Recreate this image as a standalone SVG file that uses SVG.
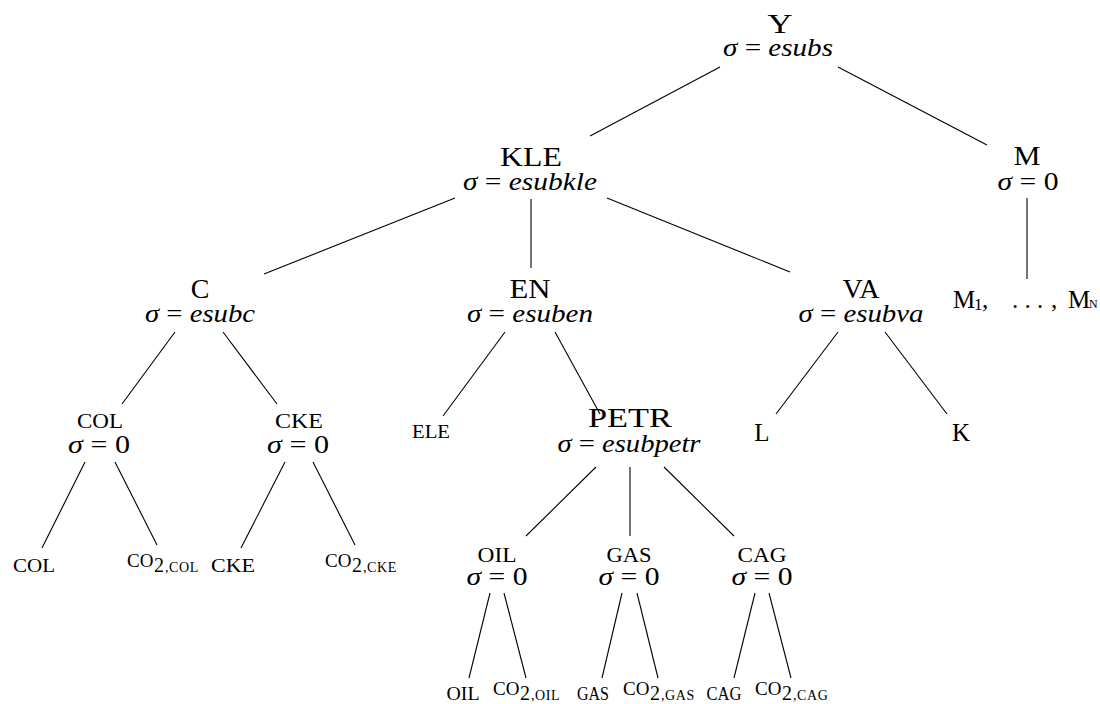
<svg xmlns="http://www.w3.org/2000/svg" width="1100" height="704" viewBox="0 0 1100 704">
  <style>
    text { font-family: "Liberation Serif", "DejaVu Serif", serif; fill: #000; }
    .t { font-size: 28px; text-anchor: middle; }
    .s { font-size: 25px; text-anchor: middle; }
    .z { font-size: 25px; text-anchor: middle; }
    .n { font-size: 21px; text-anchor: middle; }
    .lf { font-size: 18px; text-anchor: middle; }
    .co { font-size: 19px; }
    .two { font-size: 20px; }
    .sc { font-size: 14px; letter-spacing: 0.6px; }
    .i { font-style: italic; }
    .conn line { stroke: #000; stroke-width: 1.1; }
  </style>
  <rect width="1100" height="704" fill="#fff"/>

  <!-- tree edges -->
  <g class="conn" id="connectors">
    <line x1="720" y1="67" x2="590" y2="136"/>
    <line x1="838" y1="67" x2="987" y2="145"/>
    <line x1="455" y1="198" x2="264" y2="274"/>
    <line x1="531" y1="199" x2="531" y2="268"/>
    <line x1="607" y1="198" x2="790" y2="272"/>
    <line x1="1027" y1="198" x2="1027" y2="279"/>
    <line x1="175" y1="332" x2="122" y2="404"/>
    <line x1="223" y1="332" x2="277" y2="404"/>
    <line x1="505" y1="332" x2="443" y2="416"/>
    <line x1="555" y1="332" x2="600" y2="414"/>
    <line x1="838" y1="332" x2="776" y2="414"/>
    <line x1="885" y1="332" x2="947" y2="414"/>
    <line x1="85" y1="462" x2="42" y2="548"/>
    <line x1="115" y1="462" x2="157" y2="545"/>
    <line x1="285" y1="462" x2="241" y2="548"/>
    <line x1="313" y1="462" x2="355" y2="545"/>
    <line x1="596" y1="467" x2="526" y2="536"/>
    <line x1="630" y1="467" x2="630" y2="536"/>
    <line x1="664" y1="467" x2="734" y2="536"/>
    <line x1="490" y1="593" x2="469" y2="678"/>
    <line x1="504" y1="593" x2="526" y2="678"/>
    <line x1="622" y1="593" x2="602" y2="678"/>
    <line x1="637" y1="593" x2="658" y2="678"/>
    <line x1="755" y1="593" x2="734" y2="678"/>
    <line x1="769" y1="593" x2="791" y2="678"/>
  </g>

  <g id="node-Y">
    <text class="t" x="780" y="33" textLength="25" lengthAdjust="spacingAndGlyphs">Y</text>
    <text class="s" x="778" y="56" textLength="110" lengthAdjust="spacingAndGlyphs"><tspan class="i">σ</tspan> = <tspan class="i">esubs</tspan></text>
  </g>
  <g id="node-KLE">
    <text class="t" x="531" y="166" textLength="62" lengthAdjust="spacingAndGlyphs">KLE</text>
    <text class="s" x="530" y="190" textLength="134" lengthAdjust="spacingAndGlyphs"><tspan class="i">σ</tspan> = <tspan class="i">esubkle</tspan></text>
  </g>
  <g id="node-M">
    <text class="t" x="1027" y="165" textLength="27" lengthAdjust="spacingAndGlyphs">M</text>
    <text class="s" x="1028" y="190" textLength="61" lengthAdjust="spacingAndGlyphs"><tspan class="i">σ</tspan> = 0</text>
  </g>
  <g id="node-C">
    <text class="t" x="200" y="298">C</text>
    <text class="s" x="200" y="322" textLength="110" lengthAdjust="spacingAndGlyphs"><tspan class="i">σ</tspan> = <tspan class="i">esubc</tspan></text>
  </g>
  <g id="node-EN">
    <text class="t" x="530" y="298" textLength="41" lengthAdjust="spacingAndGlyphs">EN</text>
    <text class="s" x="530" y="322" textLength="126" lengthAdjust="spacingAndGlyphs"><tspan class="i">σ</tspan> = <tspan class="i">esuben</tspan></text>
  </g>
  <g id="node-VA">
    <text class="t" x="861" y="298" textLength="37" lengthAdjust="spacingAndGlyphs">VA</text>
    <text class="s" x="861" y="322" textLength="125" lengthAdjust="spacingAndGlyphs"><tspan class="i">σ</tspan> = <tspan class="i">esubva</tspan></text>
  </g>
  <g id="node-Mi">
    <text y="308" font-size="25"><tspan x="953">M</tspan><tspan x="974" y="310" font-size="17">1</tspan><tspan x="982" y="308">,</tspan><tspan x="1012">. . .</tspan><tspan x="1051">,</tspan><tspan x="1068">M</tspan><tspan x="1089" font-size="12">N</tspan></text>
  </g>
  <g id="node-COL">
    <text class="n" x="100" y="428" textLength="46" lengthAdjust="spacingAndGlyphs">COL</text>
    <text class="z" x="99" y="453" textLength="62" lengthAdjust="spacingAndGlyphs"><tspan class="i">σ</tspan> = 0</text>
  </g>
  <g id="node-CKE">
    <text class="n" x="299" y="428" textLength="48" lengthAdjust="spacingAndGlyphs">CKE</text>
    <text class="z" x="298" y="453" textLength="62" lengthAdjust="spacingAndGlyphs"><tspan class="i">σ</tspan> = 0</text>
  </g>
  <g id="node-ELE">
    <text class="lf" x="431" y="438" textLength="38" lengthAdjust="spacingAndGlyphs">ELE</text>
  </g>
  <g id="node-PETR">
    <text class="t" x="630" y="427" textLength="84" lengthAdjust="spacingAndGlyphs">PETR</text>
    <text class="s" x="629" y="452" textLength="143" lengthAdjust="spacingAndGlyphs"><tspan class="i">σ</tspan> = <tspan class="i">esubpetr</tspan></text>
  </g>
  <g id="node-L">
    <text x="762" y="441" font-size="25" text-anchor="middle">L</text>
  </g>
  <g id="node-K">
    <text x="961" y="441" font-size="25" text-anchor="middle">K</text>
  </g>
  <g id="node-OIL">
    <text class="n" x="497" y="562" textLength="39" lengthAdjust="spacingAndGlyphs">OIL</text>
    <text class="z" x="497" y="585" textLength="61" lengthAdjust="spacingAndGlyphs"><tspan class="i">σ</tspan> = 0</text>
  </g>
  <g id="node-GAS">
    <text class="n" x="629" y="562" textLength="45" lengthAdjust="spacingAndGlyphs">GAS</text>
    <text class="z" x="629" y="585" textLength="61" lengthAdjust="spacingAndGlyphs"><tspan class="i">σ</tspan> = 0</text>
  </g>
  <g id="node-CAG">
    <text class="n" x="762" y="562" textLength="49" lengthAdjust="spacingAndGlyphs">CAG</text>
    <text class="z" x="762" y="585" textLength="61" lengthAdjust="spacingAndGlyphs"><tspan class="i">σ</tspan> = 0</text>
  </g>

  <!-- leaves -->
  <g id="leaf-COL"><text class="lf" x="34" y="572" textLength="42" lengthAdjust="spacingAndGlyphs">COL</text></g>
  <g id="leaf-CO2-COL"><text><tspan class="co" x="127" y="567">CO</tspan><tspan class="two" x="154" y="572">2</tspan><tspan class="sc" x="165" y="572">,COL</tspan></text></g>
  <g id="leaf-CKE"><text class="lf" x="233" y="572" textLength="44" lengthAdjust="spacingAndGlyphs">CKE</text></g>
  <g id="leaf-CO2-CKE"><text><tspan class="co" x="325" y="567">CO</tspan><tspan class="two" x="352" y="572">2</tspan><tspan class="sc" x="363" y="572">,CKE</tspan></text></g>
  <g id="leaf-OIL"><text class="lf" x="463" y="700" textLength="33" lengthAdjust="spacingAndGlyphs">OIL</text></g>
  <g id="leaf-CO2-OIL"><text><tspan class="co" x="493" y="695">CO</tspan><tspan class="two" x="520" y="700">2</tspan><tspan class="sc" x="531" y="700">,OIL</tspan></text></g>
  <g id="leaf-GAS"><text class="lf" x="593" y="700" textLength="32" lengthAdjust="spacingAndGlyphs">GAS</text></g>
  <g id="leaf-CO2-GAS"><text><tspan class="co" x="623" y="695">CO</tspan><tspan class="two" x="650" y="700">2</tspan><tspan class="sc" x="661" y="700">,GAS</tspan></text></g>
  <g id="leaf-CAG"><text class="lf" x="724" y="700" textLength="35" lengthAdjust="spacingAndGlyphs">CAG</text></g>
  <g id="leaf-CO2-CAG"><text><tspan class="co" x="755" y="695">CO</tspan><tspan class="two" x="782" y="700">2</tspan><tspan class="sc" x="793" y="700">,CAG</tspan></text></g>
</svg>
